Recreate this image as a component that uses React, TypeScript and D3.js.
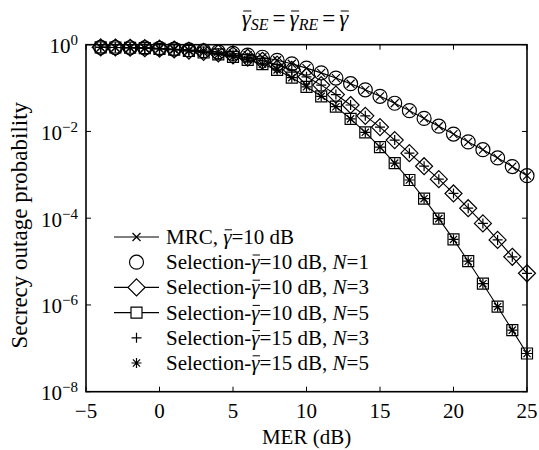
import React, { useEffect, useRef } from "react";
import * as d3 from "d3";

// MER in dB, one marker per dB
const merDb = [-4, -3, -2, -1, 0, 1, 2, 3, 4, 5, 6, 7, 8, 9, 10, 11, 12, 13, 14, 15, 16, 17, 18, 19, 20, 21, 22, 23, 24, 25];

const mrc10 = [0.871, 0.861, 0.851, 0.841, 0.822, 0.794, 0.759, 0.724, 0.684, 0.631, 0.575, 0.513, 0.437, 0.363, 0.288, 0.224, 0.17, 0.126, 0.0912, 0.0646, 0.0447, 0.0302, 0.02, 0.0132, 0.00871, 0.00575, 0.0038, 0.00245, 0.00155, 0.000955];
const sel10N1 = [0.871, 0.861, 0.851, 0.841, 0.822, 0.794, 0.759, 0.724, 0.684, 0.631, 0.575, 0.513, 0.437, 0.363, 0.288, 0.224, 0.17, 0.126, 0.0912, 0.0646, 0.0447, 0.0302, 0.02, 0.0132, 0.00871, 0.00575, 0.0038, 0.00245, 0.00155, 0.000955];
const sel10N3 = [0.871, 0.861, 0.851, 0.832, 0.813, 0.776, 0.733, 0.684, 0.631, 0.569, 0.501, 0.427, 0.347, 0.263, 0.182, 0.117, 0.0708, 0.0407, 0.0229, 0.0126, 0.00631, 0.00316, 0.00158, 7.94e-4, 3.72e-4, 1.7e-4, 7.59e-5, 3.16e-5, 1.29e-5, 5.37e-6];
const sel10N5 = [0.871, 0.861, 0.851, 0.832, 0.804, 0.767, 0.716, 0.661, 0.596, 0.525, 0.447, 0.355, 0.263, 0.174, 0.107, 0.0646, 0.0372, 0.0195, 0.00955, 0.00437, 0.00186, 7.59e-4, 2.82e-4, 9.77e-5, 3.24e-5, 1.02e-5, 3.09e-6, 9.12e-7, 2.63e-7, 7.59e-8];
const sel15N3 = [0.871, 0.861, 0.851, 0.832, 0.813, 0.776, 0.733, 0.684, 0.631, 0.569, 0.501, 0.427, 0.347, 0.263, 0.182, 0.117, 0.0708, 0.0407, 0.0229, 0.0126, 0.00631, 0.00316, 0.00158, 7.94e-4, 3.72e-4, 1.7e-4, 7.59e-5, 3.16e-5, 1.29e-5, 5.37e-6];
const sel15N5 = [0.871, 0.861, 0.851, 0.832, 0.804, 0.767, 0.716, 0.661, 0.596, 0.525, 0.447, 0.355, 0.263, 0.174, 0.107, 0.0646, 0.0372, 0.0195, 0.00955, 0.00437, 0.00186, 7.59e-4, 2.82e-4, 9.77e-5, 3.24e-5, 1.02e-5, 3.09e-6, 9.12e-7, 2.63e-7, 7.59e-8];

const xTicks = [-5, 0, 5, 10, 15, 20, 25];
const yTickExps = [0, -2, -4, -6, -8];

const FONT = "Liberation Serif, Times New Roman, serif";

// marker paths, centred on 0,0
const markerPath = {
  circle: "M7,0A7,7 0 1,1 -7,0A7,7 0 1,1 7,0Z",
  diamond: "M0,-8.5L8.5,0L0,8.5L-8.5,0Z",
  square: "M-5.5,-5.5H5.5V5.5H-5.5Z",
  cross: "M-4,-4L4,4M-4,4L4,-4",
  plus: "M-5,0H5M0,-5V5",
  star: "M-5,0H5M0,-5V5M-3.6,-3.6L3.6,3.6M-3.6,3.6L3.6,-3.6",
};

const series = [
  { key: "mrc", values: mrc10, marker: "cross", line: true, label: ["MRC, ", "g", "=10 dB"] },
  { key: "n1", values: sel10N1, marker: "circle", line: false, label: ["Selection-", "g", "=10 dB, ", "N", "=1"] },
  { key: "n3", values: sel10N3, marker: "diamond", line: true, label: ["Selection-", "g", "=10 dB, ", "N", "=3"] },
  { key: "n5", values: sel10N5, marker: "square", line: true, label: ["Selection-", "g", "=10 dB, ", "N", "=5"] },
  { key: "n3b", values: sel15N3, marker: "plus", line: false, label: ["Selection-", "g", "=15 dB, ", "N", "=3"] },
  { key: "n5b", values: sel15N5, marker: "star", line: false, label: ["Selection-", "g", "=15 dB, ", "N", "=5"] },
];

// draw a bar over every gamma in a text element
function addOverbars(svg, textSel) {
  const node = textSel.node();
  const str = node.textContent;
  for (let i = 0; i < str.length; i++) {
    if (str[i] !== "\u03b3") continue;
    const b = node.getExtentOfChar(i);
    svg
      .append("line")
      .attr("x1", b.x + 1.5)
      .attr("x2", b.x + b.width + 0.5)
      .attr("y1", b.y + b.height * 0.2)
      .attr("y2", b.y + b.height * 0.2)
      .attr("stroke", "#000")
      .attr("stroke-width", 1);
  }
}

export default function App() {
  const ref = useRef<SVGSVGElement>(null);

  useEffect(() => {
    const width = 539;
    const height = 450;
    const margin = { top: 44.7, right: 12, bottom: 58.3, left: 86 };

    const svg = d3.select(ref.current);
    svg.selectAll("*").remove();
    svg.attr("width", width).attr("height", height).attr("font-family", FONT);

    const x = d3.scaleLinear().domain([-5, 25]).range([margin.left, width - margin.right]);
    const y = d3.scaleLog().domain([1e-8, 1]).range([height - margin.bottom, margin.top]);
    const [x0, x1] = x.range();
    const [yb, yt] = y.range();

    // curves
    const line = d3
      .line<number>()
      .x((_, i) => x(merDb[i]))
      .y((d) => y(d));

    series
      .filter((s) => s.line)
      .forEach((s) => {
        svg.append("path").datum(s.values).attr("fill", "none").attr("stroke", "#000").attr("stroke-width", 1.1).attr("d", line);
      });

    series.forEach((s) => {
      svg
        .append("g")
        .selectAll("path")
        .data(s.values)
        .join("path")
        .attr("transform", (d, i) => `translate(${x(merDb[i])},${y(d)})`)
        .attr("d", markerPath[s.marker])
        .attr("fill", "none")
        .attr("stroke", "#000")
        .attr("stroke-width", 1.2);
    });

    // axes box with inward ticks
    const axis = svg.append("g").attr("stroke", "#000").attr("stroke-width", 1.6).attr("fill", "none");
    axis.append("rect").attr("x", x0).attr("y", yt).attr("width", x1 - x0).attr("height", yb - yt);
    const tl = 5;
    xTicks.forEach((t) => {
      axis.append("line").attr("x1", x(t)).attr("x2", x(t)).attr("y1", yb).attr("y2", yb - tl).attr("stroke-width", 1);
      axis.append("line").attr("x1", x(t)).attr("x2", x(t)).attr("y1", yt).attr("y2", yt + tl).attr("stroke-width", 1);
    });
    yTickExps.forEach((e) => {
      const v = Math.pow(10, e);
      axis.append("line").attr("x1", x0).attr("x2", x0 + tl).attr("y1", y(v)).attr("y2", y(v)).attr("stroke-width", 1);
      axis.append("line").attr("x1", x1).attr("x2", x1 - tl).attr("y1", y(v)).attr("y2", y(v)).attr("stroke-width", 1);
    });

    // tick labels
    xTicks.forEach((t) => {
      svg
        .append("text")
        .attr("x", x(t))
        .attr("y", 418)
        .attr("text-anchor", "middle")
        .attr("font-size", 21)
        .text(t < 0 ? `\u2212${Math.abs(t)}` : `${t}`);
    });
    yTickExps.forEach((e) => {
      const t = svg
        .append("text")
        .attr("x", 78)
        .attr("y", y(Math.pow(10, e)) + 8.5)
        .attr("text-anchor", "end")
        .attr("font-size", 21);
      t.append("tspan").text("10");
      t.append("tspan")
        .attr("font-size", 15)
        .attr("dy", -8)
        .text(e < 0 ? `\u2212${Math.abs(e)}` : `${e}`);
    });

    // axis titles
    svg
      .append("text")
      .attr("x", (x0 + x1) / 2)
      .attr("y", 444)
      .attr("text-anchor", "middle")
      .attr("font-size", 21)
      .text("MER (dB)");
    svg
      .append("text")
      .attr("transform", `translate(27,${(yt + yb) / 2 + 7}) rotate(-90)`)
      .attr("text-anchor", "middle")
      .attr("font-size", 23)
      .text("Secrecy outage probability");

    // title: gamma_SE = gamma_RE = gamma (with overbars)
    const title = svg.append("text").attr("x", 295).attr("y", 26).attr("text-anchor", "middle").attr("font-size", 23);
    const gamma = (sel) => sel.append("tspan").attr("font-style", "italic").text("\u03b3");
    gamma(title);
    title.append("tspan").attr("font-style", "italic").attr("font-size", 16).attr("dy", 4).text("SE");
    title.append("tspan").attr("dy", -4).attr("dx", 4).text("=");
    gamma(title).attr("dx", 4);
    title.append("tspan").attr("font-style", "italic").attr("font-size", 16).attr("dy", 4).text("RE");
    title.append("tspan").attr("dy", -4).attr("dx", 4).text("=");
    gamma(title).attr("dx", 4);
    addOverbars(svg, title);

    // legend
    const legRow0 = 237;
    const legStep = 25.2;
    const lx0 = 114;
    const lx1 = 159;
    const lm = 136.5;
    series.forEach((s, i) => {
      const ry = legRow0 + i * legStep;
      const g = svg.append("g");
      if (s.line) {
        g.append("line").attr("x1", lx0).attr("x2", lx1).attr("y1", ry).attr("y2", ry).attr("stroke", "#000").attr("stroke-width", 1.1);
      }
      g.append("path")
        .attr("transform", `translate(${lm},${ry})`)
        .attr("d", markerPath[s.marker])
        .attr("fill", s.line ? "#fff" : "none")
        .attr("stroke", "#000")
        .attr("stroke-width", 1.2);
      const t = g.append("text").attr("x", 166).attr("y", ry + 7).attr("font-size", 21);
      s.label.forEach((part) => {
        if (part === "g") gamma(t);
        else if (part === "N") t.append("tspan").attr("font-style", "italic").text("N");
        else t.append("tspan").text(part);
      });
      addOverbars(g, t);
    });
  }, []);

  return <svg ref={ref} style={{ position: "absolute", left: 0, top: 0, background: "#fff" }} />;
}
